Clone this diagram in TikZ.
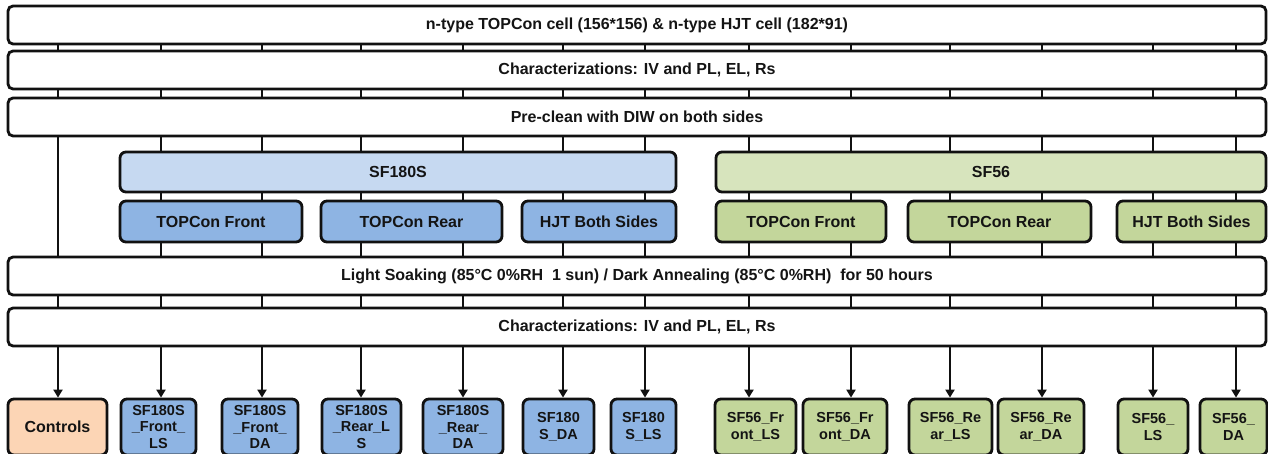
\documentclass[tikz,border=0pt]{standalone}
\usepackage{fontspec}
\setmainfont{Liberation Sans}
\usetikzlibrary{arrows.meta}
\pgfdeclarelayer{bg}
\pgfsetlayers{bg,main}
\definecolor{lineblk}{HTML}{111111}
\definecolor{txt}{HTML}{141414}
\definecolor{blueL}{HTML}{C6D9F1}
\definecolor{blueM}{HTML}{8EB4E3}
\definecolor{greenL}{HTML}{D7E4BD}
\definecolor{greenM}{HTML}{C3D69B}
\definecolor{peach}{HTML}{FCD5B5}
\begin{document}
\begin{tikzpicture}[x=1pt,y=-1pt,
  box/.style={draw=lineblk, line width=2.8pt, rounded corners=5pt, fill=white,
    text=txt, inner sep=0pt, font=\bfseries\fontsize{16}{19}\selectfont},
  bigbox/.style={box, minimum width=1258pt, minimum height=38pt},
  grp/.style={box, minimum height=40pt, rounded corners=6pt},
  sub/.style={box, minimum height=41pt, rounded corners=6pt},
  leaf/.style={box, minimum height=56pt, rounded corners=6pt, align=center,
    font=\bfseries\fontsize{14.5}{16.5}\selectfont},
  arr/.style={draw=lineblk, line width=2.8pt, -{Triangle[length=8pt,width=9pt]}}
]
\useasboundingbox (0,0) rectangle (1268,454);

% process stages spanning the full width
\node[bigbox] (top1)  at (637,25)  {n-type TOPCon cell (156*156) \& n-type HJT cell (182*91)};
\node[bigbox] (char1) at (637,70)  {Characterizations: IV and PL, EL, Rs};
\node[bigbox] (pre)   at (637,117) {Pre-clean with DIW on both sides};

% encapsulant groups
\node[grp, fill=blueL,  minimum width=556pt] (sf180) at (398,172) {SF180S};
\node[grp, fill=greenL, minimum width=550pt] (sf56)  at (991,172) {SF56};

% cell configurations
\node[sub, fill=blueM,  minimum width=182pt] (tf1)  at (211,221.5)   {TOPCon Front};
\node[sub, fill=blueM,  minimum width=181pt] (tr1)  at (411.5,221.5) {TOPCon Rear};
\node[sub, fill=blueM,  minimum width=154pt] (hjt1) at (599,221.5)   {HJT Both Sides};
\node[sub, fill=greenM, minimum width=170pt] (tf2)  at (801,221.5)   {TOPCon Front};
\node[sub, fill=greenM, minimum width=183pt] (tr2)  at (999.5,221.5) {TOPCon Rear};
\node[sub, fill=greenM, minimum width=149pt] (hjt2) at (1191.5,221.5){HJT Both Sides};

% stress and final characterization
\node[bigbox] (ls)    at (637,276) {Light Soaking (85°C 0\%RH\ \ 1 sun) / Dark Annealing (85°C 0\%RH)\ \ for 50 hours};
\node[bigbox] (char2) at (637,327) {Characterizations: IV and PL, EL, Rs};

% resulting sample groups
\node[leaf, fill=peach,  minimum width=99pt, font=\bfseries\fontsize{16}{19}\selectfont] (b1) at (57.5,427) {Controls};
\node[leaf, fill=blueM,  minimum width=75pt] (b2)  at (158.5,427) {SF180S\\\_Front\_\\LS};
\node[leaf, fill=blueM,  minimum width=76pt] (b3)  at (260,427)   {SF180S\\\_Front\_\\DA};
\node[leaf, fill=blueM,  minimum width=79pt] (b4)  at (361.5,427) {SF180S\\\_Rear\_L\\S};
\node[leaf, fill=blueM,  minimum width=80pt] (b5)  at (463,427)   {SF180S\\\_Rear\_\\DA};
\node[leaf, fill=blueM,  minimum width=71pt] (b6)  at (558.5,427) {SF180\\S\_DA};
\node[leaf, fill=blueM,  minimum width=65pt] (b7)  at (643.5,427) {SF180\\S\_LS};
\node[leaf, fill=greenM, minimum width=81pt] (b8)  at (755.5,427) {SF56\_Fr\\ont\_LS};
\node[leaf, fill=greenM, minimum width=84pt] (b9)  at (845,427)   {SF56\_Fr\\ont\_DA};
\node[leaf, fill=greenM, minimum width=83pt] (b10) at (950.5,427) {SF56\_Re\\ar\_LS};
\node[leaf, fill=greenM, minimum width=86pt] (b11) at (1041,427)  {SF56\_Re\\ar\_DA};
\node[leaf, fill=greenM, minimum width=70pt] (b12) at (1153,427)  {SF56\_\\LS};
\node[leaf, fill=greenM, minimum width=67pt] (b13) at (1233.5,427){SF56\_\\DA};

% sample flow columns, running behind the stage boxes
\foreach \i/\x in {1/58,2/161,3/262,4/361,5/463,6/563,7/645,8/749,9/851,10/950,11/1042,12/1153,13/1236}
  \coordinate (k\i) at (\x,0);
\begin{pgfonlayer}{bg}
\foreach \i in {1,...,13}
  \draw[arr] (top1.south -| k\i) -- (b\i.north -| k\i);
\end{pgfonlayer}
\end{tikzpicture}
\end{document}
